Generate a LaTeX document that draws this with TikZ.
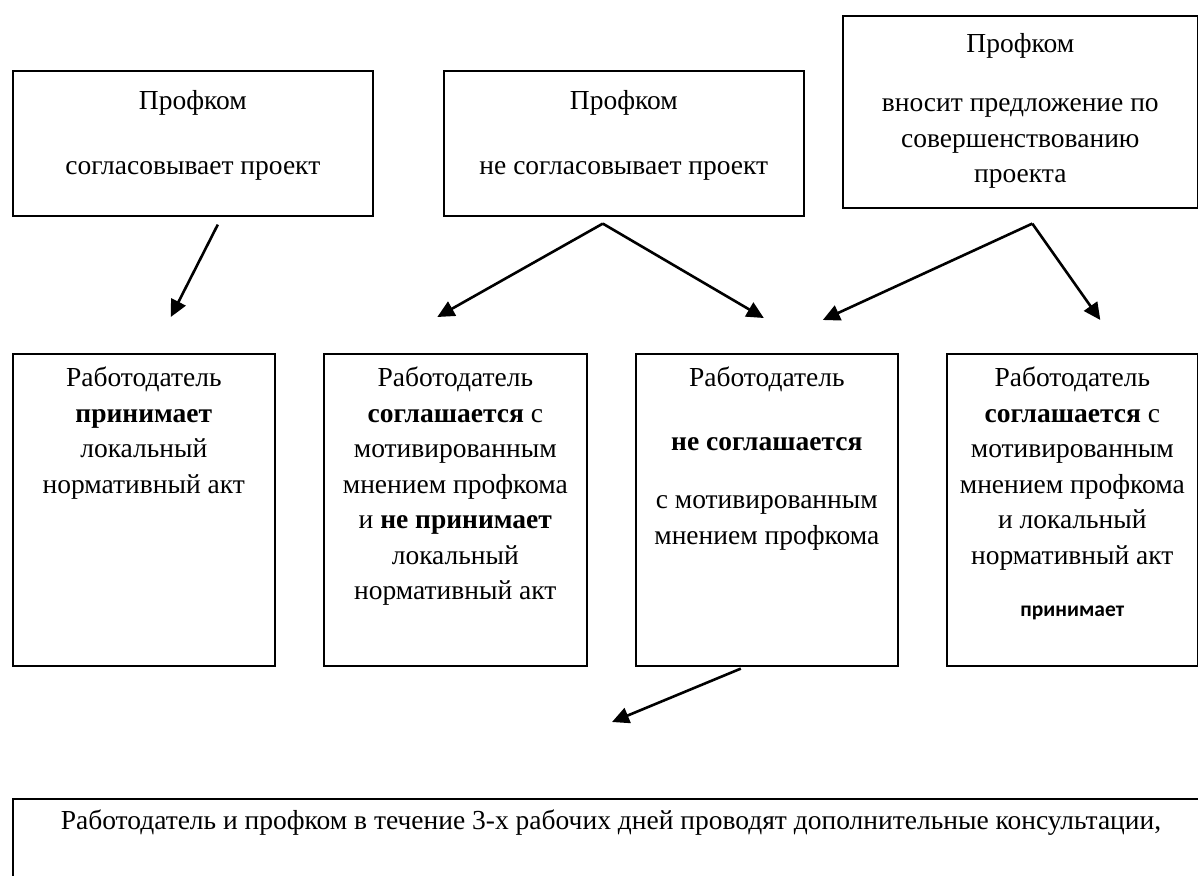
\documentclass[tikz,border=0pt]{standalone}
\usepackage{fontspec}
\setmainfont{Liberation Serif}
\newfontfamily\calibfont{Carlito}
\usetikzlibrary{arrows.meta}

\tikzset{
  box/.style={draw, line width=1.6pt, inner sep=0pt, anchor=north west},
  txt/.style={align=center, anchor=north, inner sep=0pt, font=\fontsize{27.5}{35.5}\selectfont},
  arr/.style={line width=2.6pt, -{Triangle[length=17pt,width=16pt]}}
}

\begin{document}
\begin{tikzpicture}[x=1pt, y=-1pt]
\useasboundingbox (0,0) rectangle (1198,875);

% upper boxes
\node (P1) [box, minimum width=360pt, minimum height=145pt] at (12,70) {};
\node (P2) [box, minimum width=360pt, minimum height=145pt] at (443,70) {};
\node (P3) [box, minimum width=355pt, minimum height=192pt] at (842,15) {};

\node (P1t) [txt] at ([yshift=-20pt]P1.north) {Профком\\[30pt]согласовывает проект};
\node (P2t) [txt] at ([yshift=-20pt]P2.north) {Профком\\[30pt]не согласовывает проект};
\node (P3t) [txt] at ([yshift=-18pt]P3.north) {Профком\\[24pt]вносит предложение по\\совершенствованию\\проекта};

% middle boxes
\node (B1) [box, minimum width=262pt, minimum height=312pt] at (12,353) {};
\node (B2) [box, minimum width=263pt, minimum height=312pt] at (323,353) {};
\node (B3) [box, minimum width=262pt, minimum height=312pt] at (635,353) {};
\node (B4) [box, minimum width=251pt, minimum height=312pt] at (946,353) {};

\node (B1t) [txt] at ([yshift=-14pt]B1.north) {Работодатель\\\textbf{принимает}\\локальный\\нормативный акт};
\node (B2t) [txt] at ([yshift=-14pt]B2.north) {Работодатель\\\textbf{соглашается} с\\мотивированным\\мнением профкома\\и \textbf{не принимает}\\локальный\\нормативный акт};
\node (B3t) [txt] at ([yshift=-14pt]B3.north) {Работодатель\\[28pt]\textbf{не соглашается}\\[23pt]с мотивированным\\мнением профкома};
\node (B4t) [txt] at ([yshift=-14pt]B4.north) {Работодатель\\\textbf{соглашается} с\\мотивированным\\мнением профкома\\и локальный\\нормативный акт\\[17pt]{\calibfont\fontsize{21.5}{26}\selectfont\bfseries принимает}};

% lower box
\node (C1) [box, minimum width=1200pt, minimum height=100pt] at (12,798) {};
\node (C1t) [txt] at ([xshift=599pt, yshift=-12pt]C1.north west) {Работодатель и профком в течение 3-х рабочих дней проводят дополнительные консультации,};

% arrow ends
\coordinate (p1out) at ([xshift=25pt, yshift=-8pt]P1.south);
\coordinate (p2out) at ([xshift=-21pt, yshift=-7pt]P2.south);
\coordinate (p3out) at ([xshift=12pt, yshift=-15pt]P3.south);
\coordinate (b3out) at ([xshift=-26pt, yshift=-2pt]B3.south);
\coordinate (b1in) at ([xshift=27pt, yshift=36pt]B1.north);
\coordinate (b2in) at ([xshift=-18pt, yshift=36pt]B2.north);
\coordinate (b3in) at ([xshift=-3pt, yshift=35pt]B3.north);
\coordinate (b3in2) at ([xshift=56pt, yshift=33pt]B3.north);
\coordinate (b4in) at ([xshift=28pt, yshift=33pt]B4.north);
\coordinate (c1in) at ([xshift=600pt, yshift=76pt]C1.north west);

% arrows
\draw[arr] (p1out) -- (b1in);
\draw[arr] (p2out) -- (b2in);
\draw[arr] (p2out) -- (b3in);
\draw[arr] (p3out) -- (b3in2);
\draw[arr] (p3out) -- (b4in);
\draw[arr] (b3out) -- (c1in);

\end{tikzpicture}
\end{document}
